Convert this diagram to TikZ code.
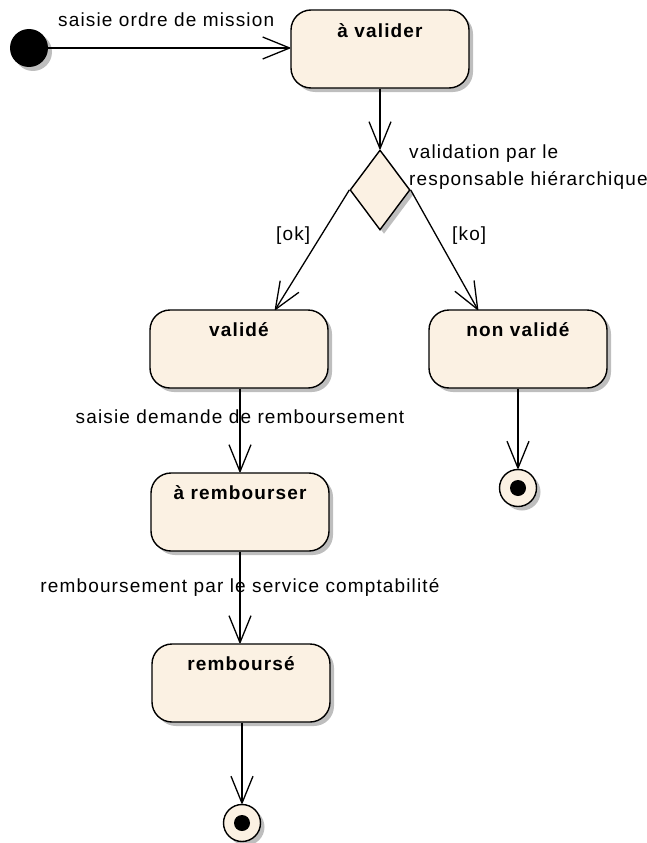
\documentclass[tikz,border=0pt]{standalone}
\usepackage{fontspec}
\setmainfont{Liberation Sans}[LetterSpace=6]
\usetikzlibrary{arrows.meta,shapes.geometric,shadows}
\definecolor{statefill}{RGB}{251,241,227}
\definecolor{shadowgray}{RGB}{190,190,190}
\begin{document}
\begin{tikzpicture}[x=1pt,y=-1pt,
  lbl/.style={inner sep=0pt, font=\fontsize{19}{22}\selectfont},
  ttl/.style={inner sep=0pt, font=\bfseries\fontsize{19}{22}\selectfont},
  shad/.style={drop shadow={shadow xshift=4pt, shadow yshift=-4pt, fill=shadowgray, opacity=1}},
  statebox/.style={draw=black, line width=1.4pt, fill=statefill, rounded corners=20pt,
    minimum width=178pt, minimum height=78pt, inner sep=0pt, shad},
  arr/.style={line width=1.3pt, line join=round,
    -{Straight Barb[length=27pt, width=22pt, line width=1.3pt, line join=round]}},
  initstate/.style={circle, fill=black, minimum size=38pt, inner sep=0pt, shad},
  finalstate/.style={circle, draw=black, line width=1.4pt, fill=statefill, minimum size=37pt, inner sep=0pt, shad},
  finaldot/.style={circle, fill=black, minimum size=16pt, inner sep=0pt},
  choice/.style={diamond, draw=black, line width=1.4pt, fill=statefill, minimum width=60pt,
    minimum height=80pt, inner sep=0pt, shad}
]
\useasboundingbox (0,0) rectangle (646,843);

% states
\node[initstate] (init) at (29,48) {};
\node[statebox] (valider) at (380,49) {};
\node[ttl] (tvalider) at (380,31) {à valider};
\node[choice] (dec) at (380,190) {};
\node[statebox] (valide) at (239,349) {};
\node[ttl] (tvalide) at (239,330) {validé};
\node[statebox] (nonvalide) at (518,349) {};
\node[ttl] (tnonvalide) at (518,330) {non validé};
\node[statebox] (rembourser) at (240,512) {};
\node[ttl] (trembourser) at (240,493) {à rembourser};
\node[statebox] (rembourse) at (241,683) {};
\node[ttl] (trembourse) at (241,664) {remboursé};
\node[finalstate] (f1) at (518,488) {};
\node[finaldot] (f1dot) at (518,488) {};
\node[finalstate] (f2) at (242,823) {};
\node[finaldot] (f2dot) at (242,823) {};

\coordinate (okend) at (275,310);
\coordinate (koend) at (478,310);

% transitions
\draw[arr] (init.east) -- (valider.west |- init.east);
\draw[arr] (valider.south) -- (dec.north);
\draw[arr] (dec.west) -- (okend);
\draw[arr] (dec.east) -- (koend);
\draw[arr] (valide.south -| rembourser.north) -- (rembourser.north);
\draw[arr] (rembourser.south) -- (rembourser.south |- rembourse.north);
\draw[arr] (nonvalide.south) -- (f1.north);
\draw[arr] (rembourse.south -| f2.north) -- (f2.north);

% labels
\node[lbl, anchor=base west] (l1) at (58,27) {saisie ordre de mission};
\node[lbl, anchor=base west] (l2a) at (409,158) {validation par le};
\node[lbl, anchor=base west] (l2b) at (409,185) {responsable hiérarchique};
\node[lbl, anchor=base west] (lok) at (276,240) {[ok]};
\node[lbl, anchor=base west] (lko) at (452,240) {[ko]};
\node[lbl, anchor=base] (l3) at (240,423) {saisie demande de remboursement};
\node[lbl, anchor=base] (l4) at (240,592) {remboursement par le service comptabilité};
\end{tikzpicture}
\end{document}
